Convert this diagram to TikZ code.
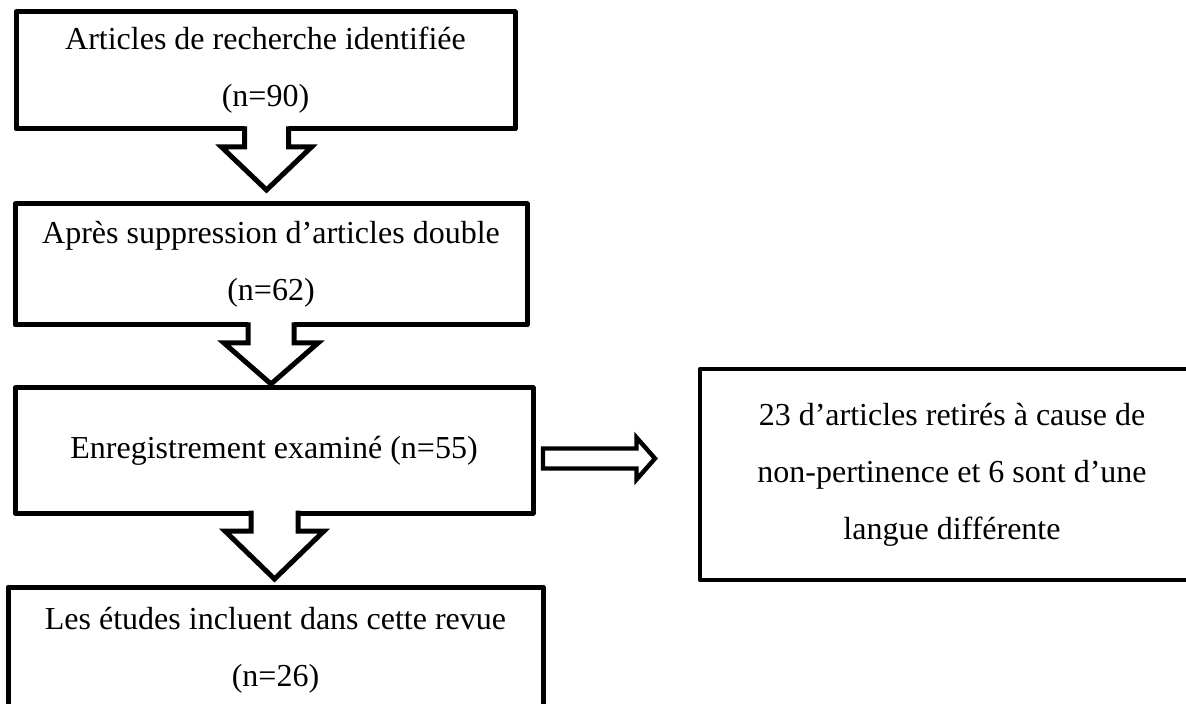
\documentclass[tikz,border=0pt]{standalone}
\usepackage{fontspec}
\setmainfont{Liberation Serif}
\usetikzlibrary{calc}
\newcommand\flowdown[6]{%
  \coordinate (s) at ($(#1.south)+(#3,0)$);
  \coordinate (t) at ($(s |- #2.north)+(0,-#6)$);
  \fill[white] ($(s)+(-#4,-3)$) -- ($(s)+(-#4,18)$) -- ($(s)+(-#5,18)$) -- (t)
     -- ($(s)+(#5,18)$) -- ($(s)+(#4,18)$) -- ($(s)+(#4,-3)$) -- cycle;
  \draw[flowline] ($(s)+(-#4,-2.5)$) -- ($(s)+(-#4,18)$) -- ($(s)+(-#5,18)$) -- (t)
     -- ($(s)+(#5,18)$) -- ($(s)+(#4,18)$) -- ($(s)+(#4,-2.5)$);
}
\begin{document}
\begin{tikzpicture}[x=0.5pt,y=-0.5pt,
  box/.style={draw=black,line width=2.5pt,rectangle,inner sep=0pt,outer sep=0pt,
    align=center,font=\fontsize{16pt}{28.5pt}\selectfont,line join=round},
  flowline/.style={draw=black,line width=2.5pt,line join=miter,line cap=butt},
  sidearrow/.style={draw=black,fill=white,line width=2.2pt,line join=miter}]
\useasboundingbox (0,0) rectangle (1186,704);
\clip (0,0) rectangle (1186,704);
\fill[white] (0,0) rectangle (1186,704);

\node[box,minimum width=249.5pt,minimum height=58.5pt] (b1) at (265.5,70.5)
  {Articles de recherche identifiée\\(n=90)};
\node[box,minimum width=256pt,minimum height=60.5pt] (b2) at (271,264.5)
  {Après suppression d’articles double\\(n=62)};
\node[box,minimum width=259pt,minimum height=62.5pt] (b3) at (274,450.5)
  {Enregistrement examiné (n=55)};
\node[box,minimum width=267.5pt,minimum height=63pt] (b4) at (275.5,650)
  {Les études incluent dans cette revue\\(n=26)};
\node[box,line width=2.3pt,minimum width=252pt,minimum height=105.5pt] (rb) at (952,474.5)
  {23 d’articles retirés à cause de\\non-pertinence et 6 sont d’une\\langue différente};

\flowdown{b1}{b2}{1}{22}{45}{14}
\flowdown{b2}{b3}{0}{23}{47}{4}
\flowdown{b3}{b4}{0.5}{23.5}{49.5}{8}

\coordinate (r0) at ($(b3.east)+(10,8)$);
\coordinate (r1) at ($(rb.west |- r0)+(-45,0)$);
\draw[sidearrow] ($(r0)+(0,-10)$) -- ($(r1)+(-18.5,-10)$) -- ($(r1)+(-18.5,-21)$) -- (r1)
  -- ($(r1)+(-18.5,21)$) -- ($(r1)+(-18.5,10)$) -- ($(r0)+(0,10)$) -- cycle;
\end{tikzpicture}
\end{document}
